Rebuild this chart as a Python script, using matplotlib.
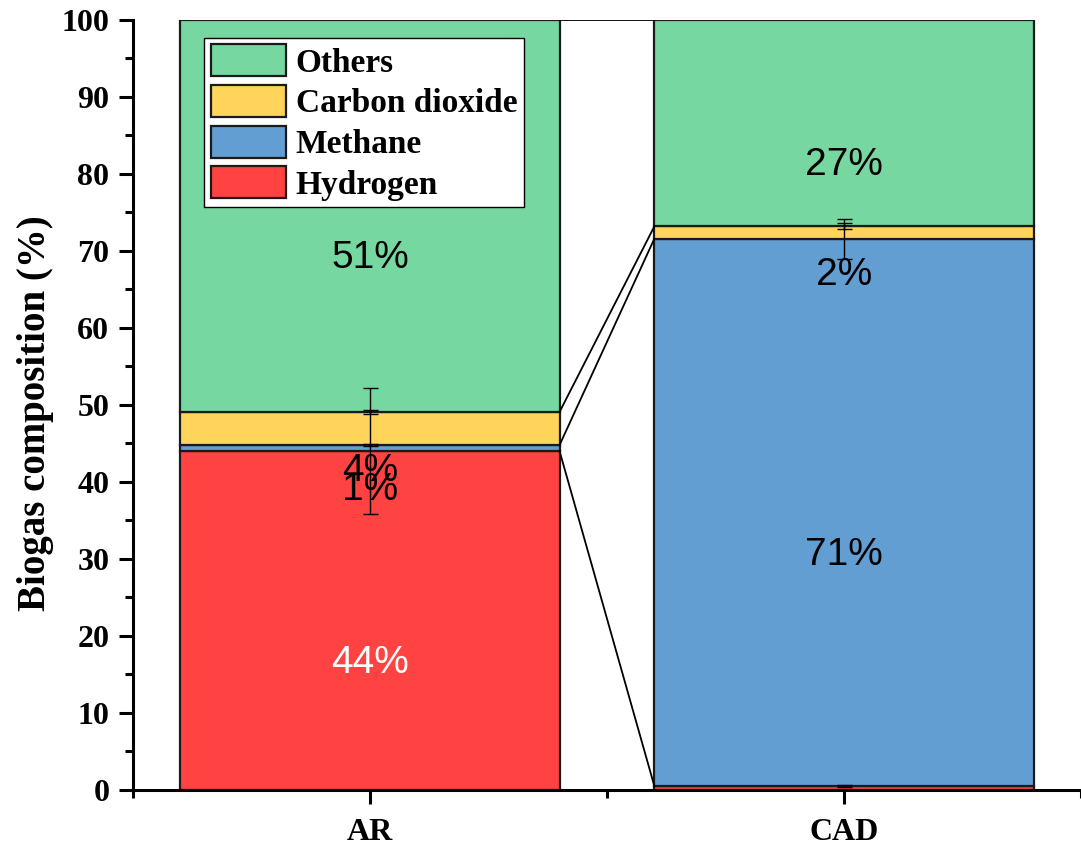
import matplotlib.pyplot as plt
import numpy as np

groups = ["AR", "CAD"]
components = ["Hydrogen", "Methane", "Carbon dioxide", "Others"]
hydrogen = [44.0, 0.5]
methane = [0.8, 71.1]
carbon_dioxide = [4.3, 1.6]
others = [50.9, 26.8]
err_hydrogen = [8.2, 0.1]
err_methane = [0.1, 2.6]
err_co2 = [0.3, 0.4]
labels_ar = ["44%", "1%", "4%", "51%"]
labels_cad = ["", "71%", "2%", "27%"]
colors = ["#FF4242", "#629ED2", "#FFD45A", "#76D7A0"]
label_colors = ["white", "black", "black", "black"]

plt.rcParams["font.family"] = ["Liberation Serif", "DejaVu Serif"]
plt.rcParams["font.weight"] = "bold"

fig = plt.figure(figsize=(10.81, 8.49), dpi=100)
ax = fig.add_axes([0.123, 0.0695, 0.877, 0.907])

x = np.arange(len(groups))
width = 0.8
values = [hydrogen, methane, carbon_dioxide, others]
errors = [err_hydrogen, err_methane, err_co2, None]
bottoms = np.zeros(len(groups))
tops = []
for vals, err, col, name in zip(values, errors, colors, components):
    vals = np.array(vals)
    ax.bar(x, vals, width, bottom=bottoms, color=col, edgecolor="#1a1a1a",
           linewidth=1.6, label=name, zorder=2)
    if err is not None:
        ax.errorbar(x, bottoms + vals, yerr=err, fmt="none", ecolor="black",
                    elinewidth=1, capsize=5.4, capthick=1, zorder=4)
    bottoms = bottoms + vals
    tops.append(bottoms.copy())

# connecting lines between the bars
for t in tops:
    ax.plot([x[0] + width / 2, x[1] - width / 2], [t[0], t[1]],
            color="black", linewidth=1.3, zorder=3)

# value labels
bottoms = np.zeros(len(groups))
for i, vals in enumerate(values):
    vals = np.array(vals)
    for j, lab in enumerate([labels_ar[i], labels_cad[i]]):
        if lab:
            ax.text(x[j], bottoms[j] + vals[j] / 2 - 5.5, lab, ha="center",
                    va="center", fontsize=28, color=label_colors[i],
                    family="Liberation Sans", fontweight="normal", zorder=5)
    bottoms = bottoms + vals

ax.set_xlim(-0.5, 1.495)
ax.set_ylim(0, 100)
ax.set_xticks(x)
ax.set_xticklabels(groups)
ax.set_xticks([-0.5, 0.5, 1.5], minor=True)
ax.set_yticks(np.arange(0, 101, 10))
ax.set_yticks(np.arange(5, 100, 10), minor=True)
ax.tick_params(axis="both", which="major", direction="out", length=10,
               width=2.2, labelsize=23)
ax.tick_params(axis="both", which="minor", direction="out", length=5.5,
               width=2.2)
ax.tick_params(axis="x", which="major", pad=10)
ax.tick_params(axis="y", which="major", pad=7)
for lab in ax.get_xticklabels() + ax.get_yticklabels():
    lab.set_fontweight("bold")
ax.spines["top"].set_visible(False)
ax.spines["right"].set_visible(False)
ax.spines["left"].set_linewidth(2.2)
ax.spines["bottom"].set_linewidth(2.2)
ax.set_ylabel("Biogas composition (%)", fontsize=28, fontweight="bold")
ax.yaxis.set_label_coords(-0.083, 0.49)

handles, labs = ax.get_legend_handles_labels()
leg = ax.legend(handles[::-1], labs[::-1], loc="upper left",
                bbox_to_anchor=(0.075, 0.977), fontsize=24, frameon=True,
                fancybox=False, edgecolor="black", framealpha=1,
                handlelength=2.25, handleheight=1.1, labelspacing=0.19,
                handletextpad=0.3, borderpad=0.2, borderaxespad=0)
leg.get_frame().set_linewidth(1)
for t in leg.get_texts():
    t.set_fontweight("bold")

fig.savefig("out.png", dpi=100)
